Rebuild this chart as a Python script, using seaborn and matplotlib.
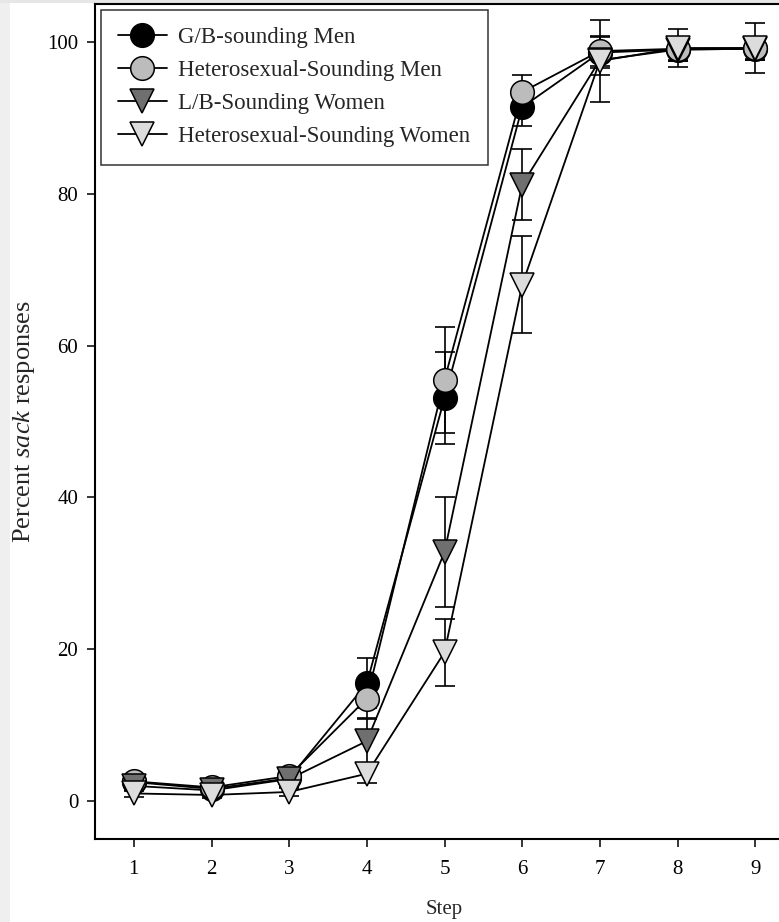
import numpy as np
import pandas as pd
import matplotlib
matplotlib.use("Agg")
import matplotlib.pyplot as plt
from matplotlib.lines import Line2D
from matplotlib.patches import Rectangle
import seaborn as sns

steps = [1, 2, 3, 4, 5, 6, 7, 8, 9]
series_names = ["G/B-sounding Men", "Heterosexual-Sounding Men",
                "L/B-Sounding Women", "Heterosexual-Sounding Women"]
gb_men = [2.5, 1.6, 3.0, 15.5, 53.1, 91.4, 98.6, 99.0, 99.1]
gb_men_err = [0.8, 0.6, 1.0, 3.3, 6.1, 2.5, 2.0, 1.5, 1.5]
het_men = [2.6, 1.8, 3.3, 13.5, 55.5, 93.4, 98.8, 99.1, 99.2]
het_men_err = [0.8, 0.6, 1.0, 2.5, 7.0, 2.2, 2.0, 1.5, 1.5]
lb_women = [2.0, 1.4, 2.9, 7.9, 32.8, 81.2, 97.6, 99.0, 99.1]
lb_women_err = [0.7, 0.5, 1.0, 2.9, 7.3, 4.7, 2.0, 1.5, 1.5]
het_women = [1.0, 0.8, 1.2, 3.6, 19.6, 68.0, 97.5, 99.2, 99.2]
het_women_err = [0.5, 0.4, 0.5, 1.2, 4.4, 6.4, 5.4, 2.5, 3.3]

values = [gb_men, het_men, lb_women, het_women]
errors = [gb_men_err, het_men_err, lb_women_err, het_women_err]
markers = ["o", "o", "v", "v"]
faces = ["#000000", "#bcbcbc", "#6f6f6f", "#dcdcdc"]

sns.set_style("ticks")
plt.rcParams["font.family"] = ["Liberation Serif", "DejaVu Serif"]
plt.rcParams["mathtext.fontset"] = "custom"
plt.rcParams["mathtext.it"] = "Liberation Serif:italic"
plt.rcParams["mathtext.rm"] = "Liberation Serif"

fig = plt.figure(figsize=(7.79, 9.22), dpi=100)
fig.patch.set_facecolor("white")
# light grey screenshot margins
fig.add_artist(Rectangle((0, 0), 10 / 779, 1, transform=fig.transFigure,
                         facecolor="#efefef", edgecolor="none", zorder=0))
fig.add_artist(Rectangle((0, 1 - 3 / 922), 1, 3 / 922, transform=fig.transFigure,
                         facecolor="#e6e6e6", edgecolor="none", zorder=0))

L, R, B, T = 95, 794, 839, 4
ax = fig.add_axes([L / 779, (922 - B) / 922, (R - L) / 779, (B - T) / 922])

ms = 17
for i, name in enumerate(series_names):
    df = pd.DataFrame({"step": steps, "val": values[i], "err": errors[i]})
    ax.errorbar(df["step"], df["val"], yerr=df["err"], fmt="none",
                ecolor="black", elinewidth=1.2, capsize=7, capthick=1.2, zorder=2)
for i, name in enumerate(series_names):
    df = pd.DataFrame({"step": steps, "val": values[i]})
    sns.lineplot(data=df, x="step", y="val", ax=ax, color="black", linewidth=1.3,
                 zorder=3, errorbar=None)
for i, name in enumerate(series_names):
    df = pd.DataFrame({"step": steps, "val": values[i]})
    sns.lineplot(data=df, x="step", y="val", ax=ax, color="black", linestyle="none",
                 marker=markers[i], markersize=ms, markerfacecolor=faces[i],
                 markeredgecolor="black", markeredgewidth=1.1, zorder=4 + i,
                 errorbar=None)

ax.set_xlim(0.5, 9.5)
ax.set_ylim(-5, 105)
ax.set_xticks(steps)
ax.set_yticks([0, 20, 40, 60, 80, 100])
ax.tick_params(axis="both", direction="out", length=6, width=1.1, labelsize=15,
               colors="black")
ax.tick_params(axis="y", pad=6)
ax.tick_params(axis="x", pad=9)
for s in ["left", "bottom", "top"]:
    ax.spines[s].set_linewidth(1.5)
    ax.spines[s].set_color("black")
ax.spines["right"].set_visible(False)
ax.set_xlabel("Step", fontsize=15)
ax.xaxis.set_label_coords(0.5, -(900 - B) / (B - T))
ax.set_ylabel("Percent $\\it{sack}$ responses", fontsize=19)
ax.yaxis.set_label_coords(-(L - 37) / (R - L), 0.5)

handles = [Line2D([0], [0], color="black", linewidth=1.3, marker=markers[i],
                  markersize=ms, markerfacecolor=faces[i], markeredgecolor="black",
                  markeredgewidth=1.1) for i in range(4)]
leg = ax.legend(handles, series_names, loc="upper left", fontsize=16.5,
                frameon=True, fancybox=False, borderaxespad=0.25,
                handlelength=2.1, handletextpad=0.5, labelspacing=0.52,
                borderpad=0.77)
leg.get_frame().set_edgecolor("black")
leg.get_frame().set_linewidth(1.1)

fig.savefig("out.png", dpi=100, facecolor="white")
